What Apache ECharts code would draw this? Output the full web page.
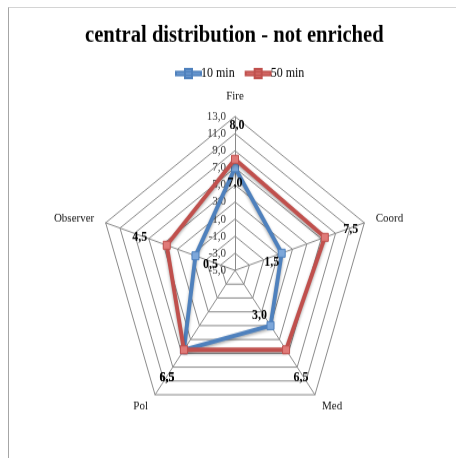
<!DOCTYPE html>
<html>
<head>
<meta charset="utf-8">
<script src="https://cdn.jsdelivr.net/npm/echarts@6/dist/echarts.min.js"></script>
<style>
  html, body { margin: 0; padding: 0; background: #fff; width: 456px; height: 458px; overflow: hidden; }
  #frame { position: absolute; left: 8px; top: 7px; right: 0; bottom: 0;
           border-left: 1px solid #a6a6a6; border-top: 1px solid #d4d4d4; }
  /* the plot is drawn on a slightly taller-than-wide canvas */
  #chart { position: absolute; left: 0; top: 0; width: 456px; height: 405px;
           transform: scaleY(1.131); transform-origin: 0 0; }
</style>
</head>
<body>
<div id="frame"></div>
<div id="chart"></div>
<script>
// indicator names, in clockwise order starting at the top
const categories = ['Fire', 'Coord', 'Med', 'Pol', 'Observer'];
const seriesNames = ['10 min', '50 min'];
const values10min = [7.0, 1.5, 3.0, 6.5, 0.5];
const values50min = [8.0, 7.5, 6.5, 6.5, 4.5];
// value axis: -5,0 ... 13,0 in steps of 2
const axisMin = -5;
const axisMax = 13;
const axisStep = 2;

const colors = { '10 min': '#4F81BD', '50 min': '#C0504D' };
const markerFill = { '10 min': '#7DA7DA', '50 min': '#E07A78' };

// where each value label sits relative to its marker (dx, dy)
const labelShift = {
  '10 min': { Fire: [0, 14], Coord: [-10, 8], Med: [-11, -9], Pol: [-17, 25], Observer: [15, 8] },
  '50 min': { Fire: [2, -30], Coord: [26, -7], Med: [15, 25], Pol: [-17, 25], Observer: [-27, -7] }
};

// ECharts lays indicators out counter-clockwise, so walk the list backwards after the first
const drawOrder = [0].concat(categories.slice(1).map((_, i) => categories.length - 1 - i));
const fmt = v => Number(v).toFixed(1).replace('.', ',');

const indicators = drawOrder.map((ci, k) => {
  const ind = { name: categories[ci], min: axisMin, max: axisMax };
  if (k === 0) {
    ind.axisLabel = {
      show: true, margin: 9, fontSize: 11, color: '#333',
      fontFamily: 'Liberation Serif', formatter: v => fmt(v)
    };
  }
  return ind;
});

function richFor(name) {
  const rich = {};
  drawOrder.forEach((ci, k) => {
    const [dx, dy] = labelShift[name][categories[ci]];
    rich['p' + k] = {
      fontFamily: 'Liberation Serif', fontWeight: 'bold', fontSize: 12, color: '#000',
      padding: [Math.max(0, 2 * dy), Math.max(0, -2 * dx), Math.max(0, -2 * dy), Math.max(0, 2 * dx)]
    };
  });
  return rich;
}

function labelText(p) {
  const k = p.dimensionIndex;
  const v = Array.isArray(p.value) ? p.value[k] : p.value;
  return '{p' + k + '|' + fmt(v) + '}';
}

function makeSeries(name, values) {
  return {
    type: 'radar',
    name: name,
    symbol: 'rect',
    symbolSize: 7,
    z: name === '50 min' ? 3 : 2,
    lineStyle: {
      color: colors[name], width: 3.9,
      shadowColor: 'rgba(0,0,0,0.35)', shadowBlur: 3, shadowOffsetY: 1.5
    },
    itemStyle: { color: markerFill[name], borderColor: colors[name], borderWidth: 1 },
    label: {
      show: true,
      position: 'inside',
      formatter: labelText,
      rich: richFor(name)
    },
    emphasis: { disabled: true },
    data: [{ name: name, value: drawOrder.map(ci => values[ci]) }]
  };
}

const legendIcon = 'path://M0,2.5H25V5.5H0Z M9,0H16V8H9Z';

const chart = echarts.init(document.getElementById('chart'), null, { renderer: 'canvas' });
chart.setOption({
  backgroundColor: 'transparent',
  animation: false,
  title: {
    text: 'central distribution - not enriched',
    left: 85,
    top: 21,
    padding: 0,
    textStyle: { fontFamily: 'Liberation Serif', fontWeight: 'bold', fontSize: 20.6, color: '#000' }
  },
  legend: {
    data: seriesNames,
    left: 175,
    top: 59,
    padding: 0,
    itemWidth: 25,
    itemHeight: 8,
    itemGap: 10,
    icon: legendIcon,
    textStyle: { fontFamily: 'Liberation Serif', fontSize: 12, color: '#000', padding: [0, 0, 0, -5] }
  },
  radar: {
    center: [235, 239],
    radius: 136,
    shape: 'polygon',
    splitNumber: (axisMax - axisMin) / axisStep,
    indicator: indicators,
    nameGap: 12,
    axisName: { color: '#111', fontFamily: 'Liberation Serif', fontSize: 11, padding: [4, 0, 0, 0] },
    axisLine: { lineStyle: { color: '#8a8a8a', width: 1 } },
    splitLine: { lineStyle: { color: '#8a8a8a', width: 1 } },
    splitArea: { show: false },
    axisTick: { show: false },
    axisLabel: { show: false }
  },
  series: [
    makeSeries('10 min', values10min),
    makeSeries('50 min', values50min)
  ]
});
</script>
</body>
</html>
